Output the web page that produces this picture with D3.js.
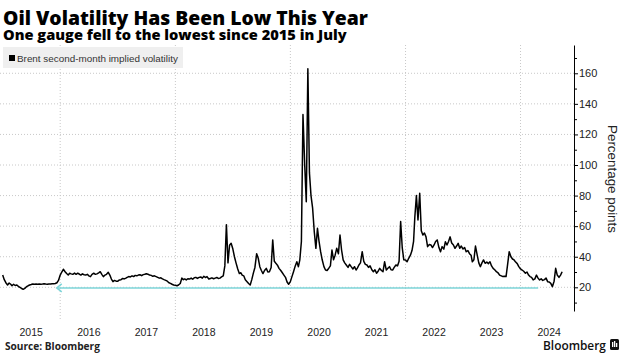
<!DOCTYPE html>
<html><head><meta charset="utf-8">
<script src="https://cdn.jsdelivr.net/npm/d3@7"></script>
<style>body{margin:0;background:#fff} svg{display:block}</style>
</head><body><svg id="c" width="625" height="360"></svg>
<script>
// Brent second-month implied volatility, ~10-day samples (1st, 11th, 21st of each month)
const vol2015 = [28, 25, 23, 21.5, 22.8, 22, 21, 22, 21.2, 21.5, 20.5, 20, 19.2, 18.7, 19.3, 20.4, 21, 21.5, 21.8, 22.2, 22, 22.1, 22, 22.2, 22, 22.1, 22.3, 22.1, 22, 22.2, 22.1, 22.3, 22.4, 22.5, 23, 24.5];
const vol2016 = [28, 30, 31.8, 30.2, 29, 28, 29.2, 28.8, 28.5, 29.3, 28.5, 29.2, 28.7, 28, 28.8, 28.2, 28, 28.5, 27.5, 27, 28.5, 29.2, 28.5, 28.8, 29.5, 30.2, 28.5, 27, 28, 28.5, 29.8, 28, 25.4, 23.7, 24.5, 24];
const vol2017 = [24, 24.8, 25, 25.8, 25.5, 26, 26.5, 27, 26.8, 27.5, 27, 27.8, 27.5, 28, 28.2, 27.6, 28.3, 28.5, 28.9, 28.6, 28, 27.8, 27.2, 27.5, 27, 26.5, 26, 26.2, 25.5, 25, 24.5, 24, 23, 22.6, 22, 21.5];
const vol2018 = [21.3, 21, 21.5, 22.5, 26, 25, 25.5, 24.8, 25.6, 25.4, 26, 25.3, 26.3, 26.5, 25.8, 26.5, 26.8, 26, 27.2, 26.4, 27, 25.4, 25.8, 26.2, 25.6, 26, 26.4, 25.8, 26, 26.8, 27.5, 34, 61, 36, 47.5, 48.8];
const vol2019 = [45, 40, 36, 32, 29, 29.5, 28, 27.5, 25, 23.7, 22.5, 21.5, 25, 29.3, 33, 42, 39, 33.5, 31, 29, 31, 32.4, 30, 30.2, 33, 51, 37, 35.7, 34.5, 32.4, 31, 29.5, 28, 26.5, 23.5, 22];
const vol2020 = [23.7, 27, 30.2, 34, 36.7, 33.5, 38, 50, 133, 100, 76, 163, 95, 80, 72, 56, 45.5, 58.6, 50, 43.3, 38, 33.5, 31.3, 31, 32.5, 34, 44.4, 38, 41, 45.5, 42, 54.2, 44.4, 38, 36, 34.6];
const vol2021 = [33, 35, 33.5, 32, 33.5, 31.3, 32.5, 34.6, 36, 43.3, 37, 35, 34.6, 33, 34, 31.5, 30.2, 31.5, 29.2, 30.5, 32.4, 31, 30.2, 36.7, 31.3, 32.5, 33.5, 31.5, 31.3, 33, 34.6, 34, 37, 63, 46, 38];
const vol2022 = [37.9, 36.7, 39, 41, 44, 50, 66, 80, 64, 81.5, 57, 54.2, 55.5, 53, 46.6, 48, 47.7, 46, 47.7, 50, 51, 46, 43.3, 46.6, 45, 49.8, 47.7, 50, 53, 49, 47.7, 45.5, 47, 48.8, 45.5, 47];
const vol2023 = [45, 46, 43.3, 44, 42, 41, 36.7, 38, 47, 41, 36, 33.5, 36, 37.9, 35.7, 36.5, 35.5, 36.7, 34, 32.4, 31.5, 30.2, 29.5, 28, 27.5, 27, 27.2, 27, 35, 43.3, 40, 38.5, 37.9, 36.5, 35.5, 33.5];
const vol2024 = [32, 31.3, 30.5, 29.2, 30, 28, 27, 26.5, 24.8, 25.5, 28, 26, 24.8, 25.5, 24.5, 25, 26, 23.7, 23.5, 22.6, 20.4, 24, 32.4, 28, 26.5, 28, 30.2];

const seriesYears = [2015, 2016, 2017, 2018, 2019, 2020, 2021, 2022, 2023, 2024];
const seriesValues = [vol2015, vol2016, vol2017, vol2018, vol2019, vol2020, vol2021, vol2022, vol2023, vol2024];

const yTicks = [20, 40, 60, 80, 100, 120, 140, 160];
const yMinorTicks = [10, 30, 50, 70, 90, 110, 130, 150, 170];
const yearLabels = [2015, 2016, 2017, 2018, 2019, 2020, 2021, 2022, 2023, 2024];
const gridYears = [2016, 2018, 2020, 2022, 2024];
const arrowFrom = new Date(2024, 3, 22);
const arrowTo = new Date(2015, 11, 10);
const arrowValue = 19.6;

const titleText = "Oil Volatility Has Been Low This Year";
const subtitleText = "One gauge fell to the lowest since 2015 in July";
const legendText = "Brent second-month implied volatility";
const axisTitle = "Percentage points";
const sourceText = "Source: Bloomberg";

const data = [];
seriesYears.forEach((yr, k) => {
  seriesValues[k].forEach((v, i) => {
    data.push({date: new Date(yr, Math.floor(i / 3), 1 + (i % 3) * 10), value: v});
  });
});

const svg = d3.select("#c");
const x = d3.scaleTime().domain([new Date(2015, 0, 1), new Date(2025, 0, 1)]).range([2.7, 578.2]);
const y = d3.scaleLinear().domain([4.5, 178.5]).range([311, 45]);
const plotRight = 574;

function fit(sel, w) {
  const l = sel.node().getComputedTextLength();
  const fs = parseFloat(sel.attr("font-size"));
  sel.attr("font-size", (fs * w / l).toFixed(2));
}

// horizontal gridlines
svg.append("g").selectAll("line").data(yTicks).join("line")
  .attr("x1", 0).attr("x2", plotRight)
  .attr("y1", d => y(d)).attr("y2", d => y(d))
  .attr("stroke", "#c8c8c8").attr("stroke-width", 1).attr("stroke-dasharray", "1,2");

// vertical gridlines
svg.append("g").selectAll("line").data(gridYears).join("line")
  .attr("x1", d => x(new Date(d, 0, 1))).attr("x2", d => x(new Date(d, 0, 1)))
  .attr("y1", 45).attr("y2", 320)
  .attr("stroke", "#c8c8c8").attr("stroke-width", 1).attr("stroke-dasharray", "1,2");

// legend
svg.append("rect").attr("x", 3).attr("y", 47).attr("width", 180).attr("height", 21).attr("fill", "#efefef");
svg.append("rect").attr("x", 9).attr("y", 55).attr("width", 6).attr("height", 6).attr("fill", "#000");
const lg = svg.append("text").attr("x", 17).attr("y", 62).attr("font-family", "Liberation Sans, Arial, sans-serif")
  .attr("font-size", 10).attr("fill", "#333").text(legendText);
fit(lg, 161);

// arrow
const arrowG = svg.append("g").attr("stroke", "#7dd5d9").attr("stroke-width", 1.5).attr("fill", "none");
arrowG.append("line").attr("x1", x(arrowFrom)).attr("x2", x(arrowTo)).attr("y1", y(arrowValue)).attr("y2", y(arrowValue));
arrowG.append("path").attr("d", `M${x(arrowTo) + 5},${y(arrowValue) - 4} L${x(arrowTo)},${y(arrowValue)} L${x(arrowTo) + 5},${y(arrowValue) + 4}`);

// line
const line = d3.line().x(d => x(d.date)).y(d => y(d.value));
svg.append("path").datum(data).attr("d", line)
  .attr("fill", "none").attr("stroke", "#000").attr("stroke-width", 1.5).attr("stroke-linejoin", "round");

// right axis
const ax = svg.append("g").attr("transform", `translate(${plotRight},0)`)
  .call(d3.axisRight(y).tickValues(yTicks).tickSize(4).tickSizeOuter(0).tickPadding(1).tickFormat(d3.format("d")));
ax.select(".domain").attr("stroke", "#000");
ax.selectAll(".tick line").attr("stroke", "#000");
ax.selectAll("text").attr("font-family", "Liberation Sans, Arial, sans-serif").attr("font-size", 11).attr("fill", "#222");
const axm = svg.append("g").attr("transform", `translate(${plotRight},0)`)
  .call(d3.axisRight(y).tickValues(yMinorTicks).tickSize(3).tickFormat(""));
axm.select(".domain").remove();
axm.selectAll(".tick line").attr("stroke", "#000");

// axis title
const at = svg.append("text").attr("transform", "translate(608,179) rotate(90)")
  .attr("text-anchor", "middle").attr("font-family", "Liberation Sans, Arial, sans-serif")
  .attr("font-size", 12.5).attr("fill", "#222").text(axisTitle);
fit(at, 108);

// year labels
svg.append("g").selectAll("text").data(yearLabels).join("text")
  .attr("x", d => x(new Date(d, 6, 1))).attr("y", 335.5)
  .attr("text-anchor", "middle").attr("font-family", "Liberation Sans, Arial, sans-serif")
  .attr("font-size", 10.5).attr("fill", "#222").text(d => d);

// titles
const t1 = svg.append("text").attr("x", 3).attr("y", 25).attr("font-family", "Open Sans, sans-serif")
  .attr("font-weight", 800).attr("font-size", 18).attr("fill", "#000").text(titleText);
fit(t1, 365);
const t2 = svg.append("text").attr("x", 3).attr("y", 40).attr("font-family", "Open Sans, sans-serif")
  .attr("font-weight", 800).attr("font-size", 13).attr("fill", "#000").text(subtitleText);
fit(t2, 344);

// footer
const src = svg.append("text").attr("x", 5).attr("y", 350).attr("font-family", "Open Sans, sans-serif")
  .attr("font-weight", 700).attr("font-size", 9.5).attr("fill", "#222").text(sourceText);
fit(src, 95);
const bb = svg.append("text").attr("x", 543).attr("y", 349.5).attr("font-family", "Open Sans, sans-serif")
  .attr("font-weight", 600).attr("font-size", 12.5).attr("fill", "#111").text("Bloomberg");
fit(bb, 63);
const logo = svg.append("g").attr("transform", "translate(610,339)");
logo.append("rect").attr("width", 9).attr("height", 11).attr("rx", 1.5).attr("fill", "#111");
logo.append("rect").attr("x", 2).attr("y", 3).attr("width", 1.3).attr("height", 5).attr("fill", "#fff");
logo.append("rect").attr("x", 4).attr("y", 2).attr("width", 1.3).attr("height", 6).attr("fill", "#fff");
logo.append("rect").attr("x", 6).attr("y", 4).attr("width", 1.3).attr("height", 4).attr("fill", "#fff");
</script></body></html>
